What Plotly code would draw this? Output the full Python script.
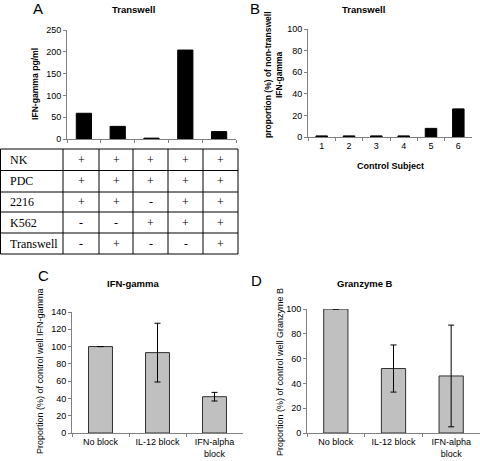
import plotly.graph_objects as go

W, H = 480, 461


def fx(p):
    return p / W


def fy(p):
    return 1 - p / H


# ---------------- data ----------------
a_conditions = ["c1", "c2", "c3", "c4", "c5"]
a_values = [59, 29, 2, 204, 17]

b_subjects = ["1", "2", "3", "4", "5", "6"]
b_values = [1, 1, 1, 1, 8, 26]

cd_categories = ["No block", "IL-12 block", "IFN-alpha<br>block"]
c_values = [100, 93, 42]
c_err = [None, 34, 5]
d_values = [100, 52, 46]
d_err = [None, 19, 41]

table_rows = ["NK", "PDC", "2216", "K562", "Transwell"]
table_signs = [
    ["+", "+", "+", "+", "+"],
    ["+", "+", "+", "+", "+"],
    ["+", "+", "-", "+", "+"],
    ["-", "-", "+", "+", "+"],
    ["-", "+", "-", "-", "+"],
]

SANS = "Liberation Sans, Arial, sans-serif"
SERIF = "Liberation Serif, Times New Roman, serif"
AXC = "#808080"

fig = go.Figure()

fig.add_trace(go.Bar(x=a_conditions, y=a_values, marker=dict(color="black", line=dict(color="black", width=1)),
                     width=0.45, xaxis="x", yaxis="y", showlegend=False))
fig.add_trace(go.Bar(x=b_subjects, y=b_values, marker=dict(color="black", line=dict(color="black", width=1)),
                     width=0.42, xaxis="x2", yaxis="y2", showlegend=False))
fig.add_trace(go.Bar(x=cd_categories, y=c_values,
                     marker=dict(color="#c0c0c0", line=dict(color="#303030", width=1)),
                     error_y=dict(type="data", array=c_err, color="black", thickness=1, width=3),
                     width=0.42, xaxis="x3", yaxis="y3", showlegend=False))
fig.add_trace(go.Bar(x=cd_categories, y=d_values,
                     marker=dict(color="#c0c0c0", line=dict(color="#303030", width=1)),
                     error_y=dict(type="data", array=d_err, color="black", thickness=1, width=3),
                     width=0.42, xaxis="x4", yaxis="y4", showlegend=False))

xcommon = dict(type="category", showline=True, linecolor=AXC, linewidth=1, ticks="outside",
               tickson="boundaries", ticklen=3, tickcolor=AXC, showgrid=False, zeroline=False,
               tickfont=dict(family=SANS, size=9, color="black"), fixedrange=True, automargin=False)
ycommon = dict(showline=True, linecolor=AXC, linewidth=1, ticks="outside", ticklen=3, tickcolor=AXC,
               showgrid=False, zeroline=False, tickfont=dict(family=SANS, size=9, color="black"),
               fixedrange=True, automargin=False)

fig.update_layout(
    width=W, height=H, margin=dict(l=0, r=0, t=0, b=0, autoexpand=False),
    paper_bgcolor="white", plot_bgcolor="white", bargap=0.5, hovermode=False,
    xaxis=dict(xcommon, domain=[fx(67), fx(236)], anchor="y", showticklabels=False),
    yaxis=dict(ycommon, domain=[fy(139), fy(30)], anchor="x", range=[0, 250], dtick=50),
    xaxis2=dict(xcommon, domain=[fx(308), fx(472)], anchor="y2"),
    yaxis2=dict(ycommon, domain=[fy(137), fy(29)], anchor="x2", range=[0, 100], dtick=20),
    xaxis3=dict(xcommon, domain=[fx(72), fx(243)], anchor="y3"),
    yaxis3=dict(ycommon, domain=[fy(433), fy(312)], anchor="x3", range=[0, 140], dtick=20),
    xaxis4=dict(xcommon, domain=[fx(307), fx(480)], anchor="y4"),
    yaxis4=dict(ycommon, domain=[fy(433), fy(309)], anchor="x4", range=[0, 100], dtick=20),
)

ann = []


def text(x, y, s, size=9, bold=False, family=SANS, angle=0, xanchor="center", yanchor="middle"):
    if bold:
        s = "<b>" + s + "</b>"
    ann.append(dict(x=fx(x), y=fy(y), xref="paper", yref="paper", text=s, showarrow=False,
                    font=dict(family=family, size=size, color="black"), textangle=angle,
                    xanchor=xanchor, yanchor=yanchor))


# panel letters
text(38, 9, "A", size=15)
text(255, 9, "B", size=15)
text(43, 275, "C", size=15)
text(256, 280, "D", size=15)

# titles
text(133, 10, "Transwell", size=9.5, bold=True)
text(363, 10, "Transwell", size=9.5, bold=True)
text(133, 283, "IFN-gamma", size=9.5, bold=True)
text(365, 283, "Granzyme B", size=9.5, bold=True)

# axis titles
text(35, 84, "IFN-gamma pg/ml", size=8.6, bold=True, angle=-90)
text(268, 75, "proportion (%) of non-transwell", size=8.5, bold=True, angle=-90)
text(279, 75, "IFN-gamma", size=8.5, bold=True, angle=-90)
text(390, 166, "Control Subject", size=9, bold=True)
text(40, 371, "Proportion (%) of control well IFN-gamma", size=9, angle=-90)
text(280, 372, "Proportion (%) of control well Granzyme B", size=9, angle=-90)

# table
hlines = [149, 170.5, 192, 212, 233, 254]
vlines = [0.5, 63, 99, 133, 168, 203, 238]
shapes = []
for yv in hlines:
    shapes.append(dict(type="line", xref="paper", yref="paper", x0=fx(vlines[0]), x1=fx(vlines[-1]),
                       y0=fy(yv), y1=fy(yv), line=dict(color="black", width=1)))
for xv in vlines:
    shapes.append(dict(type="line", xref="paper", yref="paper", x0=fx(xv), x1=fx(xv),
                       y0=fy(hlines[0]), y1=fy(hlines[-1]), line=dict(color="black", width=1)))

for i, lab in enumerate(table_rows):
    yc = (hlines[i] + hlines[i + 1]) / 2
    text(8, yc, lab, size=12, family=SERIF, xanchor="left")
    for j, s in enumerate(table_signs[i]):
        xc = (vlines[j + 1] + vlines[j + 2]) / 2
        text(xc, yc, s, size=12, family=SERIF)

fig.update_layout(annotations=ann, shapes=shapes)
# remove the browser's default 8px page margin so the 480x461 figure fills the window exactly
fig.write_html("out.html", config={"displayModeBar": False, "staticPlot": True},
               post_script="document.body.style.margin='0';")
